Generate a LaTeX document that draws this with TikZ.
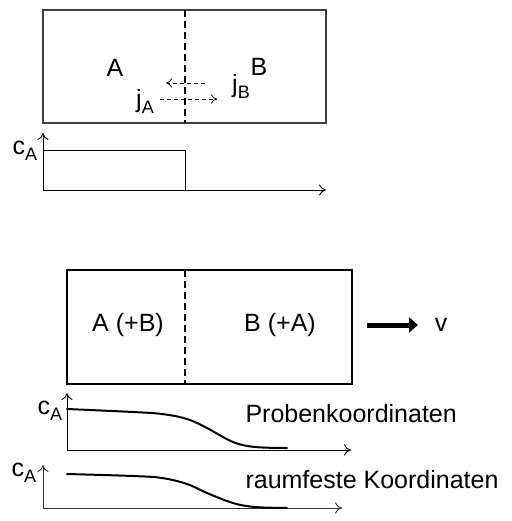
\documentclass[tikz,border=0pt]{standalone}
\usepackage{fontspec}
\setmainfont{Liberation Sans}
\usetikzlibrary{arrows.meta}

\newcommand{\idx}[1]{\raisebox{-0.45ex}{\fontsize{18}{18}\selectfont #1}}

\begin{document}
\begin{tikzpicture}[x=1pt, y=-1pt, font=\fontsize{25}{30}\selectfont,
  probe/.style={line width=2pt},
  grenze/.style={line width=1.4pt, dash pattern=on 7pt off 4pt},
  fluss/.style={line width=0.8pt, dash pattern=on 4pt off 3pt, -{To[length=6pt,width=9pt]}},
  achse/.style={line width=0.9pt, -{To[length=7pt,width=11pt]}},
  profil/.style={line width=2pt, line cap=round}]
\useasboundingbox (0,0) rectangle (511,521);

% oben: Ausgangszustand
\draw[probe, black!75] (43,10) rectangle (326,123);
\draw[grenze] (185,10) -- (185,123);
\node (A) at (115,68) {A};
\node (B) at (259,67) {B};
\node (jA) at (145,101) {j\idx{A}};
\node (jB) at (241,86) {j\idx{B}};
\coordinate (fa1) at (160,99);  \coordinate (fa2) at (217,99);
\coordinate (fb1) at (205,83);  \coordinate (fb2) at (166,83);
\draw[fluss] (fa1) -- (fa2);
\draw[fluss] (fb1) -- (fb2);

\coordinate (o1) at (43,190);
\draw[achse] (o1) -- (43,133);
\draw[achse] (o1) -- (326,190);
\draw[line width=0.9pt] (43,150) -- (185,150) -- (185,190);
\node (c1) at (25,151) {c\idx{A}};

% unten: nach Interdiffusion
\draw[probe] (67,270) rectangle (352,384);
\draw[grenze] (185,270) -- (185,384);
\node (AB) at (128,325) {A (+B)};
\node (BA) at (280,325) {B (+A)};
\coordinate (v1) at (367,325);
\coordinate (v2) at (418,325);
\draw[line width=5pt, -{Triangle[length=9pt,width=15pt]}] (v1) -- (v2);
\node (v) at (441,325) {v};

\coordinate (o2) at (67,450);
\draw[achse] (o2) -- (67,393);
\draw[achse] (o2) -- (351,450);
\draw[profil] plot[smooth, tension=0.6] coordinates {(67,409) (133,412) (162,414) (187,419) (207,428) (233,442) (255,447) (287,448)};
\node (c2) at (50,411) {c\idx{A}};
\node[right] (pk) at (242,414) {Probenkoordinaten};

\coordinate (o3) at (43,508);
\draw[achse, black!80] (o3) -- (43,465);
\draw[achse, black!80] (o3) -- (342,508);
\draw[profil] plot[smooth, tension=0.6] coordinates {(67,474) (133,476) (162,478) (187,484) (207,493) (233,503) (255,507) (287,508)};
\node (c3) at (24,473) {c\idx{A}};
\node[right] (rk) at (242,480) {raumfeste Koordinaten};

\end{tikzpicture}
\end{document}
